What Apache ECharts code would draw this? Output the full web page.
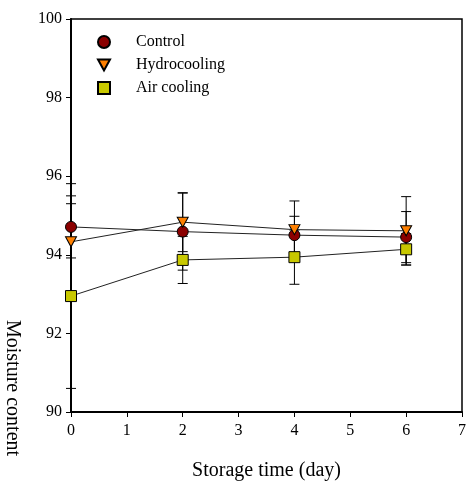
<!DOCTYPE html>
<html>
<head>
<meta charset="utf-8">
<script src="https://cdn.jsdelivr.net/npm/echarts@6/dist/echarts.min.js"></script>
<style>
  html, body { margin: 0; padding: 0; background: #fff; }
  #chart { width: 469px; height: 494px; }
</style>
</head>
<body>
<div id="chart"></div>
<script>
// Storage days and moisture content (%) with standard deviations
const days = [0, 2, 4, 6];
const controlValues = [94.71, 94.59, 94.50, 94.45];
const controlErr = [0.79, 0.98, 0.48, 0.65];
const hydroValues = [94.33, 94.83, 94.64, 94.61];
const hydroErr = [1.48, 0.75, 0.73, 0.87];
const airValues = [92.95, 93.87, 93.94, 94.14];
const airErr = [2.35, 0.60, 0.69, 0.40];
const seriesNames = ['Control', 'Hydrocooling', 'Air cooling'];
const xTicks = [0, 1, 2, 3, 4, 5, 6, 7];
const yTicks = [90, 92, 94, 96, 98, 100];

const FONT = 'Liberation Serif, Times New Roman, serif';
const TRI_DOWN = 'path://M0,0 L10,0 L5,9 Z';

const chart = echarts.init(document.getElementById('chart'), null, { renderer: 'canvas' });

function pairs(vals) {
  return days.map((d, i) => [d, vals[i]]);
}
function errData(vals, errs) {
  return days.map((d, i) => [d, vals[i] - errs[i], vals[i] + errs[i]]);
}

// Vertical error bar with horizontal caps
function renderErr(params, api) {
  const x = api.value(0);
  const lo = api.coord([x, api.value(1)]);
  const hi = api.coord([x, api.value(2)]);
  const half = 5;
  const style = { stroke: '#000', lineWidth: 1 };
  return {
    type: 'group',
    children: [
      { type: 'line', shape: { x1: lo[0], y1: lo[1], x2: hi[0], y2: hi[1] }, style },
      { type: 'line', shape: { x1: lo[0] - half, y1: lo[1], x2: lo[0] + half, y2: lo[1] }, style },
      { type: 'line', shape: { x1: hi[0] - half, y1: hi[1], x2: hi[0] + half, y2: hi[1] }, style }
    ]
  };
}

function errSeries(vals, errs) {
  return {
    type: 'custom',
    renderItem: renderErr,
    data: errData(vals, errs),
    encode: { x: 0, y: [1, 2] },
    z: 1,
    silent: true
  };
}

function lineSeries(name, vals, symbol, size, fill) {
  return {
    name,
    type: 'line',
    data: pairs(vals),
    symbol,
    symbolSize: size,
    showAllSymbol: true,
    lineStyle: { color: '#222', width: 1 },
    itemStyle: { color: fill, borderColor: '#000', borderWidth: 1 },
    z: 3,
    animation: false
  };
}

const option = {
  animation: false,
  backgroundColor: '#fff',
  grid: {
    left: 71, right: 3, top: 19, bottom: 82,
    show: true, borderColor: '#000', borderWidth: 1.5, backgroundColor: 'transparent'
  },
  legend: {
    orient: 'vertical',
    left: 92,
    top: 29,
    itemWidth: 12,
    itemHeight: 12,
    itemGap: 7,
    textStyle: { fontFamily: FONT, fontSize: 16, color: '#000', padding: [0, 0, 0, 21] },
    data: [
      { name: seriesNames[0], icon: 'circle' },
      { name: seriesNames[1], icon: TRI_DOWN },
      { name: seriesNames[2], icon: 'rect' }
    ]
  },
  xAxis: {
    type: 'value',
    min: xTicks[0],
    max: xTicks[xTicks.length - 1],
    interval: 1,
    name: 'Storage time (day)',
    nameLocation: 'middle',
    nameGap: 49,
    nameTextStyle: { fontFamily: FONT, fontSize: 20, color: '#000' },
    axisLine: { lineStyle: { color: '#000', width: 2 } },
    axisTick: { show: true, inside: false, length: 5, lineStyle: { color: '#000', width: 1 } },
    axisLabel: { fontFamily: FONT, fontSize: 16, color: '#000', margin: 11 },
    splitLine: { show: false }
  },
  yAxis: {
    type: 'value',
    min: yTicks[0],
    max: yTicks[yTicks.length - 1],
    interval: 2,
    axisLine: { show: true, lineStyle: { color: '#000', width: 2 } },
    axisTick: { show: true, inside: false, length: 5, lineStyle: { color: '#000', width: 1 } },
    axisLabel: { fontFamily: FONT, fontSize: 16, color: '#000', margin: 9 },
    splitLine: { show: false }
  },
  graphic: [
    {
      type: 'text',
      x: 12,
      y: 320,
      rotation: -Math.PI / 2,
      style: {
        text: 'Moisture content',
        fontFamily: FONT,
        fontSize: 20,
        fill: '#000',
        textAlign: 'left',
        textVerticalAlign: 'middle'
      }
    }
  ],
  series: [
    errSeries(controlValues, controlErr),
    errSeries(hydroValues, hydroErr),
    errSeries(airValues, airErr),
    lineSeries(seriesNames[0], controlValues, 'circle', 11, '#8b0000'),
    lineSeries(seriesNames[1], hydroValues, TRI_DOWN, [11, 10], '#ff8000'),
    lineSeries(seriesNames[2], airValues, 'rect', 11, '#c8c800')
  ]
};

chart.setOption(option);
</script>
</body>
</html>
